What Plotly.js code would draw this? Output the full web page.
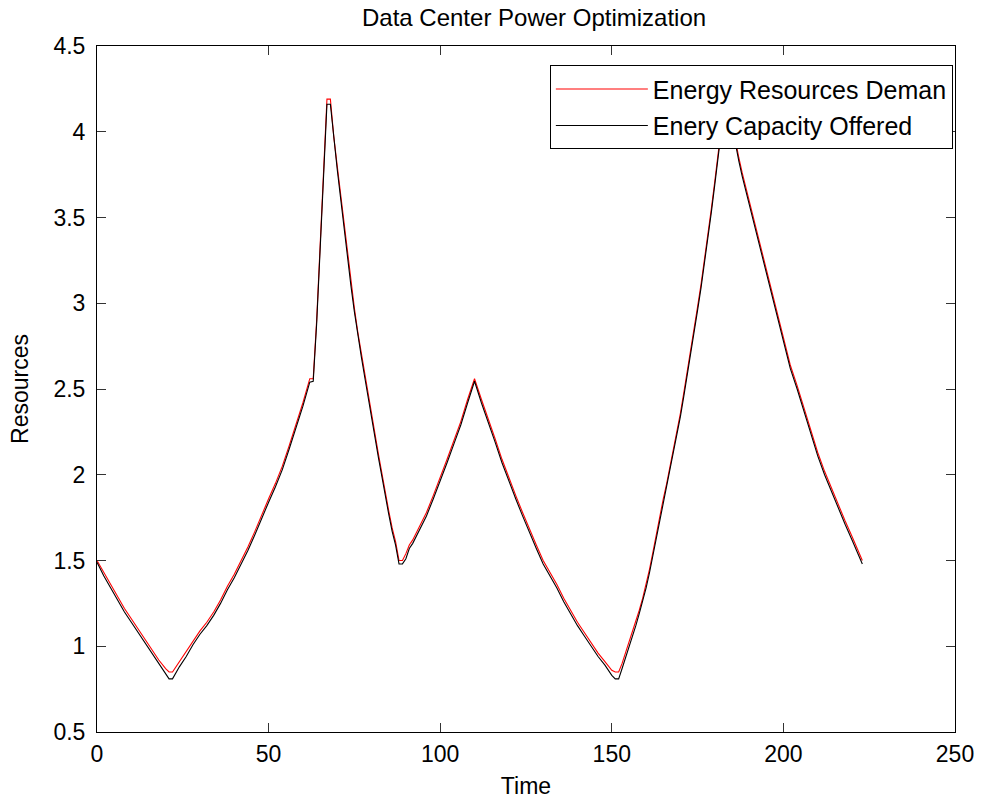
<!DOCTYPE html>
<html>
<head>
<meta charset="utf-8">
<script src="https://cdn.plot.ly/plotly-3.0.1.min.js"></script>
<style>html,body{margin:0;padding:0;background:#fff;}#chart{width:989px;height:801px;}</style>
</head>
<body>
<div id="chart"></div>
<script>
var timeSteps = [0,2,4,6,8,10,12,14,16,18,20,21,
  22,24,26,28,30,32,34,36,38,40,42,44,46,48,50,52,54,56,58,60,62,
  63,64,65,66,67,68,69,70,71,72,73,74,75,76,77,78,79,80,81,82,83,84,85,86,87,88,89,90,91,92,
  94,96,98,100,102,104,106,108,110,112,114,116,118,120,122,124,126,128,130,132,134,136,138,140,142,144,146,148,150,
  151,152,153,154,155,156,157,158,159,160,161,162,163,164,165,166,167,168,169,170,171,172,173,174,175,176,177,178,179,180,181,182,183,184,185,186,187,188,
  190,192,194,196,198,200,202,204,206,208,210,212,214,216,218,220,222,223];

var energyDemand = [1.50,1.43,1.36,1.29,1.22,1.16,1.10,1.04,0.98,0.92,0.87,0.85,
  0.85,0.91,0.97,1.03,1.09,1.14,1.20,1.27,1.35,1.42,1.50,1.58,1.67,1.77,1.86,1.95,2.05,2.17,2.29,2.42,2.56,
  2.56,2.90,3.33,3.74,4.19,4.19,3.97,3.80,3.63,3.45,3.28,3.12,2.97,2.83,2.71,2.59,2.47,2.34,2.23,2.12,2.01,1.89,1.79,1.69,1.61,1.50,1.50,1.54,1.59,1.62,
  1.70,1.78,1.88,1.98,2.09,2.20,2.31,2.44,2.56,2.44,2.33,2.21,2.09,1.98,1.88,1.78,1.68,1.59,1.50,1.43,1.36,1.28,1.21,1.14,1.08,1.02,0.96,0.91,0.86,
  0.85,0.85,0.90,0.96,1.02,1.08,1.14,1.21,1.28,1.36,1.45,1.55,1.66,1.76,1.86,1.95,2.05,2.15,2.25,2.36,2.48,2.60,2.72,2.85,2.98,3.11,3.25,3.40,3.55,3.71,3.88,4.04,4.18,4.18,4.06,3.95,3.85,3.76,
  3.60,3.43,3.27,3.11,2.95,2.80,2.64,2.52,2.39,2.25,2.13,2.02,1.92,1.82,1.73,1.64,1.55,1.50];

var capacityOffered = [1.49,1.41,1.34,1.27,1.20,1.14,1.08,1.02,0.96,0.90,0.84,0.81,
  0.81,0.88,0.94,1.01,1.07,1.12,1.18,1.25,1.33,1.40,1.48,1.56,1.65,1.75,1.84,1.93,2.03,2.15,2.27,2.40,2.54,
  2.545,2.88,3.31,3.72,4.16,4.16,3.95,3.78,3.61,3.43,3.26,3.10,2.95,2.81,2.69,2.57,2.45,2.32,2.21,2.10,1.99,1.87,1.77,1.67,1.59,1.48,1.48,1.51,1.57,1.60,
  1.68,1.76,1.86,1.96,2.07,2.18,2.29,2.42,2.545,2.42,2.31,2.19,2.07,1.96,1.86,1.76,1.66,1.57,1.48,1.41,1.34,1.26,1.19,1.12,1.06,1.00,0.94,0.89,0.83,
  0.81,0.81,0.87,0.93,0.99,1.06,1.12,1.19,1.26,1.34,1.43,1.53,1.64,1.74,1.84,1.93,2.03,2.13,2.23,2.34,2.46,2.58,2.70,2.83,2.96,3.09,3.23,3.38,3.53,3.69,3.86,4.02,4.16,4.16,4.04,3.93,3.83,3.74,
  3.58,3.41,3.25,3.09,2.93,2.78,2.62,2.50,2.37,2.23,2.11,2.00,1.90,1.80,1.71,1.62,1.53,1.48];

var seriesNames = ['Energy Resources Deman', 'Enery Capacity Offered'];
var xTickVals = [0,50,100,150,200,250];
var yTickVals = [0.5,1,1.5,2,2.5,3,3.5,4,4.5];

var FONT = 'Liberation Sans, Arial, Helvetica, sans-serif';

var traces = [
  {x: timeSteps, y: energyDemand, name: seriesNames[0], type: 'scatter', mode: 'lines',
   line: {color: '#ff0000', width: 1.1}, legendgroup: 'a'},
  {x: timeSteps, y: capacityOffered, name: seriesNames[1], type: 'scatter', mode: 'lines',
   line: {color: '#000000', width: 1.1}, legendgroup: 'b'}
];

var axisCommon = {
  showline: true, linecolor: '#000', linewidth: 1, mirror: 'ticks',
  ticks: 'inside', ticklen: 9, tickcolor: '#333', tickwidth: 1,
  showgrid: false, zeroline: false,
  tickfont: {family: FONT, size: 23, color: '#000'}
};

var layout = {
  width: 989, height: 801,
  margin: {l: 97, r: 34, t: 46, b: 69, pad: 0},
  paper_bgcolor: '#fff', plot_bgcolor: '#fff',
  font: {family: FONT, color: '#000'},
  title: {text: 'Data Center Power Optimization', font: {family: FONT, size: 24, color: '#000'},
          x: 0.54, xanchor: 'center', y: 0.978, yanchor: 'middle'},
  xaxis: Object.assign({}, axisCommon, {
    range: [0, 250], tickvals: xTickVals, ticklabelstandoff: 1,
    title: {text: 'Time', font: {family: FONT, size: 23, color: '#000'}, standoff: 12}
  }),
  yaxis: Object.assign({}, axisCommon, {
    range: [0.5, 4.5], tickvals: yTickVals, ticklabelstandoff: 6,
    title: {text: 'Resources', font: {family: FONT, size: 23, color: '#000'}, standoff: 18}
  }),
  showlegend: true,
  legend: {
    x: 0.9975, y: 0.972, xanchor: 'right', yanchor: 'top',
    bgcolor: '#fff', bordercolor: '#000', borderwidth: 1,
    font: {family: FONT, size: 25, color: '#000'},
    traceorder: 'grouped', tracegroupgap: 1, itemwidth: 92
  }
};

Plotly.newPlot('chart', traces, layout, {displayModeBar: false, staticPlot: true});
</script>
</body>
</html>
